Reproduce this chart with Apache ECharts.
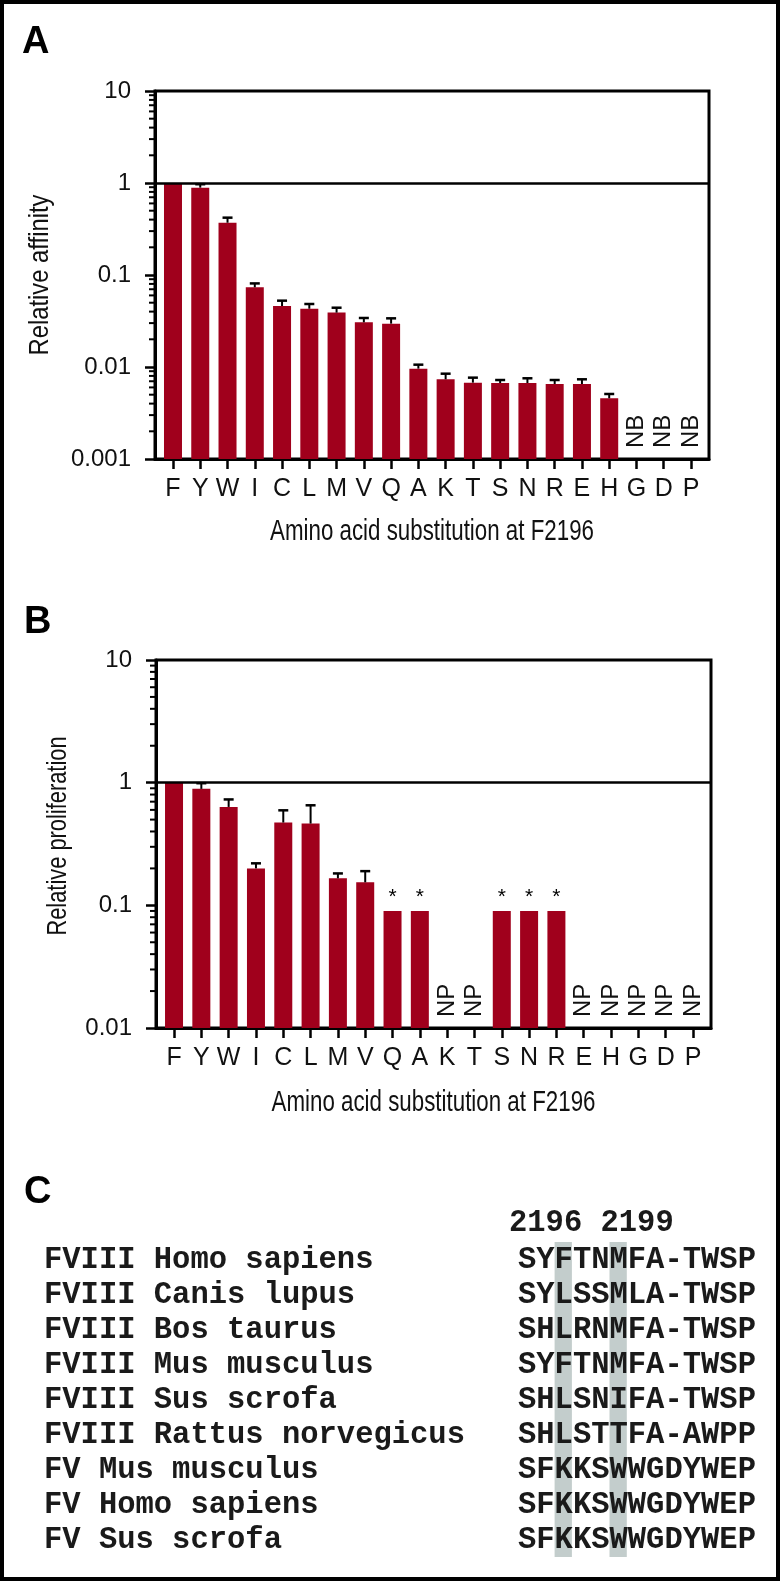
<!DOCTYPE html>
<html><head><meta charset="utf-8">
<script src="https://cdn.jsdelivr.net/npm/echarts@6/dist/echarts.min.js"></script>
<style>html,body{margin:0;padding:0;background:#fff}#c{width:780px;height:1581px}</style>
</head><body><div id="c"></div>
<script>
// ---------- DATA ----------
const categories = ['F','Y','W','I','C','L','M','V','Q','A','K','T','S','N','R','E','H','G','D','P'];
const affinity     = [1.0, 0.89, 0.37, 0.0735, 0.046, 0.043, 0.039, 0.0306, 0.0296, 0.0096, 0.00735, 0.00676, 0.0067, 0.0067, 0.00653, 0.00653, 0.00457, null, null, null];
const affinityErr  = [null, 0.97, 0.42, 0.081, 0.0526, 0.0484, 0.0441, 0.0341, 0.0338, 0.0106, 0.00846, 0.00766, 0.00722, 0.00754, 0.00722, 0.00735, 0.00509, null, null, null];
const affinityNotes = ['','','','','','','','','','','','','','','','','','NB','NB','NB'];
const proliferation    = [1.0, 0.89, 0.634, 0.2, 0.473, 0.464, 0.166, 0.154, 0.09, 0.09, null, null, 0.09, 0.09, 0.09, null, null, null, null, null];
const proliferationErr = [null, 0.99, 0.73, 0.22, 0.595, 0.654, 0.182, 0.19, null, null, null, null, null, null, null, null, null, null, null, null];
const proliferationNotes = ['','','','','','','','','*','*','NP','NP','*','*','*','NP','NP','NP','NP','NP'];
const affinityTicks = ['0.001','0.01','0.1','1','10'];
const proliferationTicks = ['0.01','0.1','1','10'];
const minorMultipliers = [2,3,4,5,6,7,8,9];
const xTitle = 'Amino acid substitution at F2196';
const yTitleA = 'Relative affinity';
const yTitleB = 'Relative proliferation';
const alignHeader = '2196 2199';
const speciesNames = ['FVIII Homo sapiens','FVIII Canis lupus','FVIII Bos taurus','FVIII Mus musculus','FVIII Sus scrofa','FVIII Rattus norvegicus','FV Mus musculus','FV Homo sapiens','FV Sus scrofa'];
const sequences = ['SYFTNMFA-TWSP','SYLSSMLA-TWSP','SHLRNMFA-TWSP','SYFTNMFA-TWSP','SHLSNIFA-TWSP','SHLSTTFA-AWPP','SFKKSWWGDYWEP','SFKKSWWGDYWEP','SFKKSWWGDYWEP'];
const highlightColumns = [2, 5];

// ---------- STYLE / LAYOUT ----------
const RED = '#a0001c';
const SANS = '"Liberation Sans", Arial, Helvetica, sans-serif';
const MONO = '"Liberation Mono", "Courier New", monospace';
const BAR_W = 18;
const gA = {left:155, top:91, width:554, height:368};
const gB = {left:156, top:660, width:555, height:368};

function tickFmt(list){
  return v => list.find(t => Math.abs(Math.log10(+t) - Math.log10(v)) < 0.01) || '';
}
function xAxisCfg(gi){
  const idx = categories.map((c,i)=>i);
  return {
    type:'value', gridIndex:gi, min:-0.66, max:19.66,
    splitLine:{show:false},
    axisLine:{show:true, onZero:false, lineStyle:{color:'#000', width:3}},
    axisTick:{show:true, customValues:idx, length:10, lineStyle:{color:'#000', width:2.5}},
    axisLabel:{show:true, customValues:idx, formatter:v=>categories[Math.round(v)], margin:18,
      fontSize:25, color:'#111', fontFamily:SANS}
  };
}
function yAxisCfg(gi, ticks){
  return {
    type:'log', logBase:10, gridIndex:gi, min:+ticks[0], max:+ticks[ticks.length-1],
    splitLine:{show:false},
    axisLine:{show:true, onZero:false, lineStyle:{color:'#000', width:3}},
    axisTick:{show:true, length:10, lineStyle:{color:'#000', width:2.5}},
    axisLabel:{formatter:tickFmt(ticks), margin:24, fontSize:24, color:'#111', fontFamily:SANS}
  };
}
// bars drawn from the bottom of the log axis
function barSeries(gi, vals, notes){
  return {
    type:'custom', xAxisIndex:gi, yAxisIndex:gi, z:2, silent:true,
    data: vals.map((v,i)=>[i, v]).filter(d=>d[1]!=null),
    encode:{x:0, y:1},
    renderItem(params, api){
      const i = api.value(0);
      const top = api.coord([i, api.value(1)]);
      const bottom = params.coordSys.y + params.coordSys.height;
      const children = [{type:'rect', shape:{x:top[0]-BAR_W/2, y:top[1], width:BAR_W, height:bottom-top[1]}, style:{fill:RED}}];
      if (notes[i]==='*') {
        children.push({type:'text', x:top[0], y:top[1]-3, style:{text:'*', textAlign:'center', textVerticalAlign:'bottom', fontSize:21, fontFamily:SANS, fill:'#000'}});
      }
      return {type:'group', children};
    },
    markLine:{silent:true, symbol:['none','none'], label:{show:false},
      lineStyle:{color:'#000', width:2.5, type:'solid'}, data:[{yAxis:1}]}
  };
}
function errSeries(gi, vals, errs){
  return {
    type:'custom', xAxisIndex:gi, yAxisIndex:gi, z:5, silent:true, clip:false,
    data: vals.map((v,i)=>[i, v, errs[i]]).filter(d=>d[1]!=null && d[2]!=null),
    encode:{x:0, y:[1,2]},
    renderItem(params, api){
      const i = api.value(0);
      const lo = api.coord([i, api.value(1)]);
      const hi = api.coord([i, api.value(2)]);
      return {type:'group', children:[
        {type:'line', shape:{x1:lo[0], y1:lo[1], x2:hi[0], y2:hi[1]}, style:{stroke:'#000', lineWidth:2}},
        {type:'line', shape:{x1:hi[0]-5, y1:hi[1], x2:hi[0]+5, y2:hi[1]}, style:{stroke:'#000', lineWidth:2.5}}
      ]};
    }
  };
}
function noteSeries(gi, notes, yMin){
  return {
    type:'custom', xAxisIndex:gi, yAxisIndex:gi, z:5, silent:true, clip:false,
    data: notes.map((n,i)=>[i, yMin, n]).filter(d=>d[2]==='NB'||d[2]==='NP'),
    encode:{x:0, y:1},
    renderItem(params, api){
      const i = api.value(0);
      const p = api.coord([i, yMin]);
      return {type:'text', x:p[0], y:p[1]-11, rotation:Math.PI/2,
        style:{text:notes[i], textAlign:'left', textVerticalAlign:'middle', fontSize:24, fontFamily:SANS, fill:'#111'}};
    }
  };
}
function minorSeries(gi, ticks){
  const vals = [];
  for (let k=0;k<ticks.length-1;k++){
    minorMultipliers.forEach(m => vals.push([0, m*(+ticks[k])]));
  }
  return {
    type:'custom', xAxisIndex:gi, yAxisIndex:gi, z:6, silent:true, clip:false,
    data: vals, encode:{x:0, y:1},
    renderItem(params, api){
      const y = api.coord([0, api.value(1)])[1];
      const x0 = params.coordSys.x;
      return {type:'line', shape:{x1:x0-6, y1:y, x2:x0, y2:y}, style:{stroke:'#000', lineWidth:2}};
    }
  };
}

// ---------- GRAPHIC (titles, panel C) ----------
const graphic = [];
graphic.push({type:'rect', z:100, shape:{x:2, y:2, width:776, height:1577}, style:{fill:'none', stroke:'#000', lineWidth:4}});
[['A',22,43],['B',24,623],['C',24,1193]].forEach(([t,x,y])=>{
  graphic.push({type:'text', x, y, style:{text:t, fontSize:38, fontWeight:'bold', fontFamily:SANS, fill:'#000', textAlign:'left', textVerticalAlign:'middle'}});
});
[[gA, 532],[gB, 1103]].forEach(([g, y])=>{
  graphic.push({type:'text', x:g.left+g.width/2, y, scaleX:0.77,
    style:{text:xTitle, fontSize:29, fontFamily:SANS, fill:'#111', textAlign:'center', textVerticalAlign:'middle'}});
});
graphic.push({type:'text', x:40, y:275, rotation:Math.PI/2, scaleX:0.85,
  style:{text:yTitleA, fontSize:28, fontFamily:SANS, fill:'#111', textAlign:'center', textVerticalAlign:'middle'}});
graphic.push({type:'text', x:58, y:836, rotation:Math.PI/2, scaleX:0.78,
  style:{text:yTitleB, fontSize:28, fontFamily:SANS, fill:'#111', textAlign:'center', textVerticalAlign:'middle'}});

// panel C
const monoSize = 30.5, charW = monoSize*0.6;
const seqX = 518, nameX = 44, row0 = 1260, rowH = 35.1;
highlightColumns.forEach(c=>{
  graphic.push({type:'rect', z:-1, shape:{x:seqX + c*charW, y:1242, width:charW-1, height:315}, style:{fill:'#c3cdcc'}});
});
graphic.push({type:'text', x:509, y:1223, style:{text:alignHeader, fontSize:monoSize, fontWeight:'bold', fontFamily:MONO, fill:'#1a1a1a', textAlign:'left', textVerticalAlign:'middle'}});
speciesNames.forEach((n,i)=>{
  graphic.push({type:'text', x:nameX, y:row0+i*rowH, style:{text:n, fontSize:monoSize, fontWeight:'bold', fontFamily:MONO, fill:'#1a1a1a', textAlign:'left', textVerticalAlign:'middle'}});
  graphic.push({type:'text', x:seqX, y:row0+i*rowH, style:{text:sequences[i], fontSize:monoSize, fontWeight:'bold', fontFamily:MONO, fill:'#1a1a1a', textAlign:'left', textVerticalAlign:'middle'}});
});

// ---------- CHART ----------
const chart = echarts.init(document.getElementById('c'), null, {renderer:'canvas'});
chart.setOption({
  animation:false,
  backgroundColor:'#fff',
  grid:[
    Object.assign({show:true, borderColor:'#000', borderWidth:3, containLabel:false}, gA),
    Object.assign({show:true, borderColor:'#000', borderWidth:3, containLabel:false}, gB)
  ],
  xAxis:[xAxisCfg(0), xAxisCfg(1)],
  yAxis:[yAxisCfg(0, affinityTicks), yAxisCfg(1, proliferationTicks)],
  series:[
    barSeries(0, affinity, affinityNotes),
    errSeries(0, affinity, affinityErr),
    noteSeries(0, affinityNotes, +affinityTicks[0]),
    minorSeries(0, affinityTicks),
    barSeries(1, proliferation, proliferationNotes),
    errSeries(1, proliferation, proliferationErr),
    noteSeries(1, proliferationNotes, +proliferationTicks[0]),
    minorSeries(1, proliferationTicks)
  ],
  graphic: graphic
});
</script></body></html>
